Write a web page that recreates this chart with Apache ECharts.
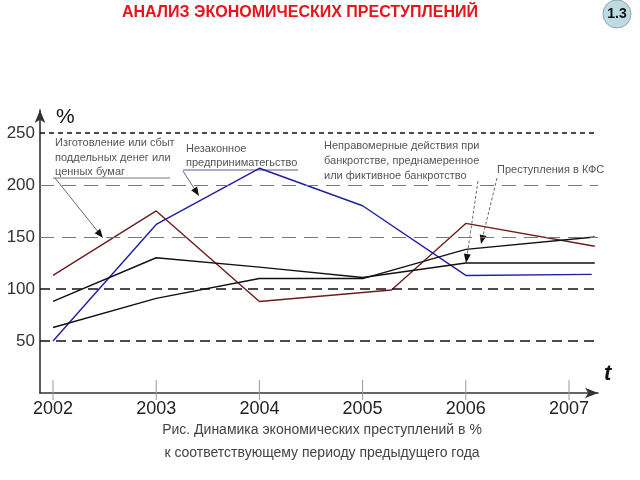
<!DOCTYPE html>
<html><head><meta charset="utf-8">
<script src="https://cdn.jsdelivr.net/npm/echarts@6/dist/echarts.min.js"></script>
<style>html,body{margin:0;padding:0;background:#fff}#c{width:640px;height:480px}</style>
</head><body><div id="c"></div>
<script>
// ---- data ----
var years = [2002, 2003, 2004, 2005, 2006, 2007];
var yTicks = [50, 100, 150, 200, 250];
var counterfeit = [[2002,113],[2003,175],[2004,88],[2005.28,99],[2006,163],[2007.25,141]];   // Изготовление или сбыт
var illegalBiz  = [[2002,50],[2003,162],[2004,216],[2005,180],[2006,113],[2007.22,114]];     // Незаконное предпринимательство
var bankruptcy  = [[2002,88],[2003,130],[2004,121],[2005,111],[2006,125],[2007.25,125]];     // Неправомерные действия при банкротстве
var kfs         = [[2002,63],[2003,91],[2004,110],[2005,110],[2006,138],[2007.25,150]];      // Преступления в КФС

var FONT = '"Liberation Sans", Arial, sans-serif';
var chart = echarts.init(document.getElementById('c'), null, {renderer: 'canvas'});

function gridLine(v) {
  var strong = (v === 250 || v === 100 || v === 50);
  return {
    yAxis: v,
    lineStyle: strong
      ? {color: '#111', width: 1.5, type: v === 250 ? [5, 4] : [10, 6]}
      : {color: '#777', width: 1, type: [14, 8]}
  };
}

function arrowGraphic(x1, y1, x2, y2, dashed) {
  var ang = Math.atan2(y2 - y1, x2 - x1), L = 9, W = 3.5;
  var bx = x2 - L * Math.cos(ang), by = y2 - L * Math.sin(ang);
  var px = -Math.sin(ang) * W, py = Math.cos(ang) * W;
  return [
    {type: 'line', shape: {x1: x1, y1: y1, x2: bx, y2: by},
     style: {stroke: '#444', lineWidth: 0.8, lineDash: dashed ? [3, 2] : null}},
    {type: 'polygon', shape: {points: [[x2, y2], [bx + px, by + py], [bx - px, by - py]]},
     style: {fill: '#111'}}
  ];
}

function txt(x, y, s, opt) {
  return {type: 'text', x: x, y: y, style: Object.assign({text: s, fill: '#555', font: '11px ' + FONT, textVerticalAlign: 'middle'}, opt || {})};
}

var graphics = [
  // title
  {type: 'text', x: 300, y: 13, style: {text: 'АНАЛИЗ ЭКОНОМИЧЕСКИХ ПРЕСТУПЛЕНИЙ', fill: '#e8141c', font: 'bold 16px ' + FONT, textAlign: 'center', textVerticalAlign: 'middle'}},
  {type: 'circle', shape: {cx: 617, cy: 14, r: 14}, style: {fill: '#bcdbe3', stroke: '#8fa6ad', lineWidth: 1}},
  {type: 'text', x: 617, y: 14, style: {text: '1.3', fill: '#111', font: 'bold 14px ' + FONT, textAlign: 'center', textVerticalAlign: 'middle'}},
  // axis names
  {type: 'text', x: 56, y: 117, style: {text: '%', fill: '#111', font: '21px ' + FONT, textVerticalAlign: 'middle'}},
  {type: 'text', x: 604, y: 374, style: {text: 't', fill: '#111', font: 'italic bold 22px ' + FONT, textVerticalAlign: 'middle'}},
  // caption
  {type: 'text', x: 322, y: 430, style: {text: 'Рис. Динамика экономических преступлений в %', fill: '#444', font: '14px ' + FONT, textAlign: 'center', textVerticalAlign: 'middle'}},
  {type: 'text', x: 322, y: 453, style: {text: 'к соответствующему периоду предыдущего года', fill: '#444', font: '14px ' + FONT, textAlign: 'center', textVerticalAlign: 'middle'}},
  // annotations
  txt(55, 143, 'Изготовление или сбыт'),
  txt(55, 158, 'поддельных денег или'),
  txt(55, 172, 'ценных бумаг'),
  {type: 'line', shape: {x1: 53, y1: 178, x2: 170, y2: 178}, style: {stroke: '#555', lineWidth: 0.8}},
  txt(186, 149, 'Незаконное'),
  txt(186, 163, 'предприниматегьство'),
  {type: 'line', shape: {x1: 183, y1: 170, x2: 298, y2: 170}, style: {stroke: '#33337a', lineWidth: 0.8}},
  txt(324, 146, 'Неправомерные действия при'),
  txt(324, 161, 'банкротстве, преднамеренное'),
  txt(324, 176, 'или фиктивное банкротство'),
  txt(497, 170, 'Преступления в КФС')
].concat(arrowGraphic(55, 178, 103, 238, false))
 .concat(arrowGraphic(183, 171, 199, 196, false))
 .concat(arrowGraphic(478, 181, 466, 263, true))
 .concat(arrowGraphic(497, 178, 481, 244, true));

function lineSeries(data, color, width) {
  return {type: 'line', data: data, symbol: 'none', lineStyle: {color: color, width: width}, z: 3, silent: true};
}

var gridSeries = lineSeries([], '#000', 1);
gridSeries.markLine = {silent: true, symbol: 'none', label: {show: false}, data: yTicks.map(gridLine), animation: false};

chart.setOption({
  animation: false,
  backgroundColor: '#fff',
  grid: {left: 40, right: 42, top: 110, bottom: 87, containLabel: false},
  xAxis: {
    type: 'value', min: 2001.874, max: 2007.281,
    axisLine: {show: true, symbol: ['none', 'arrow'], symbolSize: [8, 13], lineStyle: {color: '#333', width: 1.6}},
    axisTick: {show: false}, axisLabel: {show: false}, splitLine: {show: false}
  },
  yAxis: {
    type: 'value', min: 0, max: 272, interval: 50,
    axisLine: {show: true, symbol: ['none', 'arrow'], symbolSize: [8, 13], lineStyle: {color: '#333', width: 1.6}},
    axisTick: {show: false}, splitLine: {show: false},
    axisLabel: {
      margin: 5, fontSize: 17, fontFamily: FONT, color: '#333',
      formatter: function (v) { return yTicks.indexOf(v) >= 0 ? String(v) : ''; }
    }
  },
  graphic: graphics,
  series: [
    gridSeries,
    {
      type: 'custom', clip: false, silent: true, z: 1,
      data: years.map(function (y) { return [y, 0]; }),
      renderItem: function (params, api) {
        var p = api.coord([api.value(0), 0]);
        return {type: 'group', children: [
          {type: 'line', shape: {x1: p[0], y1: p[1] - 13, x2: p[0], y2: p[1] + 7}, style: {stroke: '#999', lineWidth: 1}},
          {type: 'text', x: p[0], y: p[1] + 16, style: {text: String(api.value(0)), fill: '#222', font: '18px ' + FONT, textAlign: 'center', textVerticalAlign: 'middle'}}
        ]};
      }
    },
    lineSeries(counterfeit, '#6e1c1c', 1.4),
    lineSeries(illegalBiz, '#1f1fa3', 1.4),
    lineSeries(bankruptcy, '#111', 1.4),
    lineSeries(kfs, '#111', 1.4)
  ]
});
</script></body></html>
